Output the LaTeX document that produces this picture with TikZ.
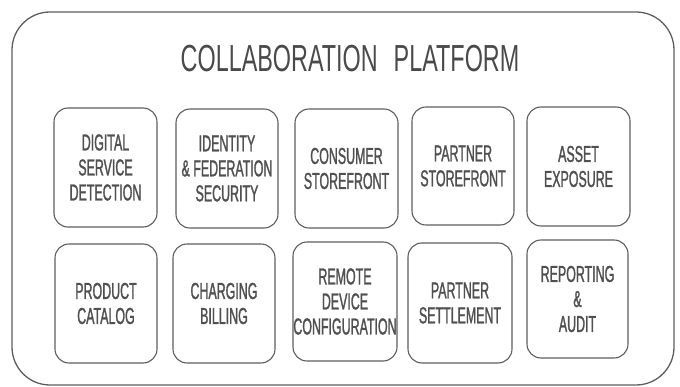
\documentclass[tikz,border=0pt]{standalone}
\usepackage{fontspec}
\setmainfont{Liberation Sans}
\newfontfamily\titlefont[FakeStretch=0.62]{Liberation Sans}
\newfontfamily\modulefont[FakeStretch=0.54,FakeBold=1.2]{Liberation Sans}
\definecolor{framegray}{HTML}{5E5E5E}
\definecolor{titlegray}{HTML}{4A4A4A}
\definecolor{labelgray}{HTML}{505050}
\begin{document}
\begin{tikzpicture}[x=1pt,y=-1pt,
  platform/.style={draw=framegray,line width=1.3pt,rounded corners=38pt,inner sep=0pt},
  module/.style={draw=framegray,line width=1.1pt,rounded corners=14pt,
    align=center,text=labelgray,inner sep=0pt,
    font=\modulefont\fontsize{23}{25}\selectfont},
  heading/.style={text=titlegray,inner sep=0pt,font=\titlefont\fontsize{37.7}{40}\selectfont}
]
\useasboundingbox (0,0) rectangle (680,387);

% outer platform frame
\node[platform, minimum width=662pt, minimum height=373pt] (platform) at (343,198.5) {};
\node[heading, anchor=base] (title) at (350,72) {COLLABORATION\hspace{16pt}PLATFORM};

% first row of modules
\node[module, minimum width=103pt, minimum height=119pt] (dsd) at (105.5,167.5) {DIGITAL\\SERVICE\\DETECTION};
\node[module, minimum width=102pt, minimum height=119pt] (ifs) at (227,168.5) {IDENTITY\\\& FEDERATION\\SECURITY};
\node[module, minimum width=103pt, minimum height=119pt] (cst) at (346.5,168.5) {CONSUMER\\STOREFRONT};
\node[module, minimum width=102pt, minimum height=118pt] (pst) at (463,166) {PARTNER\\STOREFRONT};
\node[module, minimum width=103pt, minimum height=119pt] (aex) at (578.5,166.5) {ASSET\\EXPOSURE};

% second row of modules
\node[module, minimum width=102pt, minimum height=119pt] (pcat) at (106,303.5) {PRODUCT\\CATALOG};
\node[module, minimum width=102pt, minimum height=119pt] (chb) at (224,303.5) {CHARGING\\BILLING};
\node[module, minimum width=104pt, minimum height=119pt] (rdc) at (345,301.5) {REMOTE\\DEVICE\\CONFIGURATION};
\node[module, minimum width=104pt, minimum height=120pt] (pse) at (460,303) {PARTNER\\SETTLEMENT};
\node[module, minimum width=101pt, minimum height=118pt] (rpa) at (577.5,299) {REPORTING\\\&\\AUDIT};
\end{tikzpicture}
\end{document}
